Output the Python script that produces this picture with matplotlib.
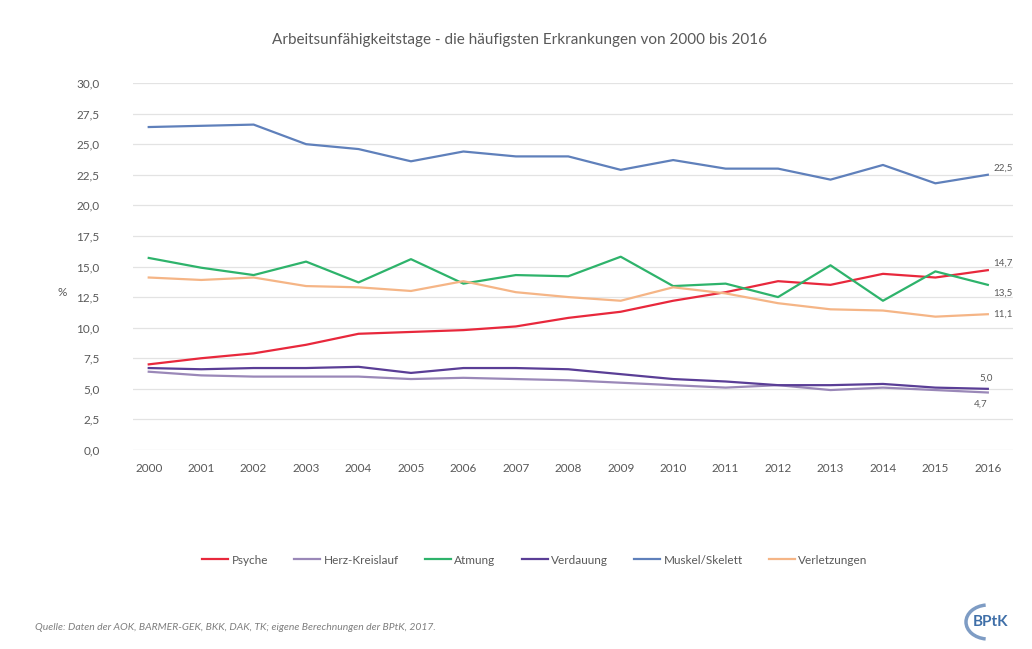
import matplotlib.pyplot as plt
from matplotlib.patches import Arc

plt.rcParams['font.family'] = ['Lato', 'DejaVu Sans']

# Data
years = list(range(2000, 2017))
psyche = [7.0, 7.5, 7.9, 8.6, 9.5, 9.65, 9.8, 10.1, 10.8, 11.3, 12.2, 12.9, 13.8, 13.5, 14.4, 14.1, 14.7]
herz = [6.4, 6.1, 6.0, 6.0, 6.0, 5.8, 5.9, 5.8, 5.7, 5.5, 5.3, 5.1, 5.3, 4.9, 5.1, 4.9, 4.7]
atmung = [15.7, 14.9, 14.3, 15.4, 13.7, 15.6, 13.6, 14.3, 14.2, 15.8, 13.4, 13.6, 12.5, 15.1, 12.2, 14.6, 13.5]
verdauung = [6.7, 6.6, 6.7, 6.7, 6.8, 6.3, 6.7, 6.7, 6.6, 6.2, 5.8, 5.6, 5.3, 5.3, 5.4, 5.1, 5.0]
muskel = [26.4, 26.5, 26.6, 25.0, 24.6, 23.6, 24.4, 24.0, 24.0, 22.9, 23.7, 23.0, 23.0, 22.1, 23.3, 21.8, 22.5]
verletzungen = [14.1, 13.9, 14.1, 13.4, 13.3, 13.0, 13.8, 12.9, 12.5, 12.2, 13.3, 12.8, 12.0, 11.5, 11.4, 10.9, 11.1]

series = [
    ('Psyche', psyche, '#E8283C'),
    ('Herz-Kreislauf', herz, '#9A88B8'),
    ('Atmung', atmung, '#2EB36B'),
    ('Verdauung', verdauung, '#5A3E96'),
    ('Muskel/Skelett', muskel, '#5F80BB'),
    ('Verletzungen', verletzungen, '#F5B586'),
]
yticks = [0, 2.5, 5, 7.5, 10, 12.5, 15, 17.5, 20, 22.5, 25, 27.5, 30]
txt = '#595959'

fig = plt.figure(figsize=(10.32, 6.49), dpi=100)
ax = fig.add_axes([133 / 1032, 1 - 450 / 649, 880 / 1032, 367 / 649])

for name, vals, col in series:
    ax.plot(years, vals, color=col, linewidth=1.6, label=name)

ax.set_xlim(1999.7, 2016.48)
ax.set_ylim(0, 30)
ax.set_yticks(yticks)
ax.set_yticklabels([f'{v:.1f}'.replace('.', ',') for v in yticks])
ax.set_xticks(years)
ax.tick_params(colors=txt, labelsize=8.5, length=0, pad=9)
ax.tick_params(axis='y', pad=24)
ax.grid(axis='y', color='#E3E3E3', linewidth=0.9)
ax.set_axisbelow(True)
for s in ax.spines.values():
    s.set_visible(False)

fig.text(62 / 1032, 1 - 293 / 649, '%', ha='center', va='center', color=txt, fontsize=8.5)

# end labels
lab = dict(color=txt, fontsize=7)
ax.annotate('22,5', (2016, muskel[-1]), xytext=(4, 3), textcoords='offset points', **lab)
ax.annotate('14,7', (2016, psyche[-1]), xytext=(4, 3), textcoords='offset points', **lab)
ax.annotate('13,5', (2016, atmung[-1]), xytext=(4, -8), textcoords='offset points', **lab)
ax.annotate('11,1', (2016, verletzungen[-1]), xytext=(4, -2), textcoords='offset points', **lab)
ax.annotate('5,0', (2016, verdauung[-1]), xytext=(-6, 6), textcoords='offset points', **lab)
ax.annotate('4,7', (2016, herz[-1]), xytext=(-10, -10), textcoords='offset points', **lab)

fig.text(520 / 1032, 1 - 40 / 649, 'Arbeitsunfähigkeitstage - die häufigsten Erkrankungen von 2000 bis 2016',
         ha='center', va='center', fontsize=11, color=txt)

fig.legend(loc='center', bbox_to_anchor=(535 / 1032, 1 - 560 / 649), ncol=6, frameon=False,
           fontsize=8.5, labelcolor=txt, handlelength=2.2, handletextpad=0.3, columnspacing=2.2)

fig.text(35 / 1032, 1 - 628 / 649, 'Quelle: Daten der AOK, BARMER-GEK, BKK, DAK, TK; eigene Berechnungen der BPtK, 2017.',
         ha='left', va='center', fontsize=7.5, color='#7F7F7F', style='italic')

# logo
fig.text(990 / 1032, 1 - 622 / 649, 'BPtK', ha='center', va='center', fontsize=11,
         color='#3F6FA8', fontweight='bold')
fig.patches.append(Arc((988 / 1032, 1 - 622 / 649), 44 / 1032, 34 / 649, theta1=95, theta2=265,
                       transform=fig.transFigure, color='#7E9CC4', linewidth=2.5))

fig.savefig('out.png', dpi=100, facecolor='white')
